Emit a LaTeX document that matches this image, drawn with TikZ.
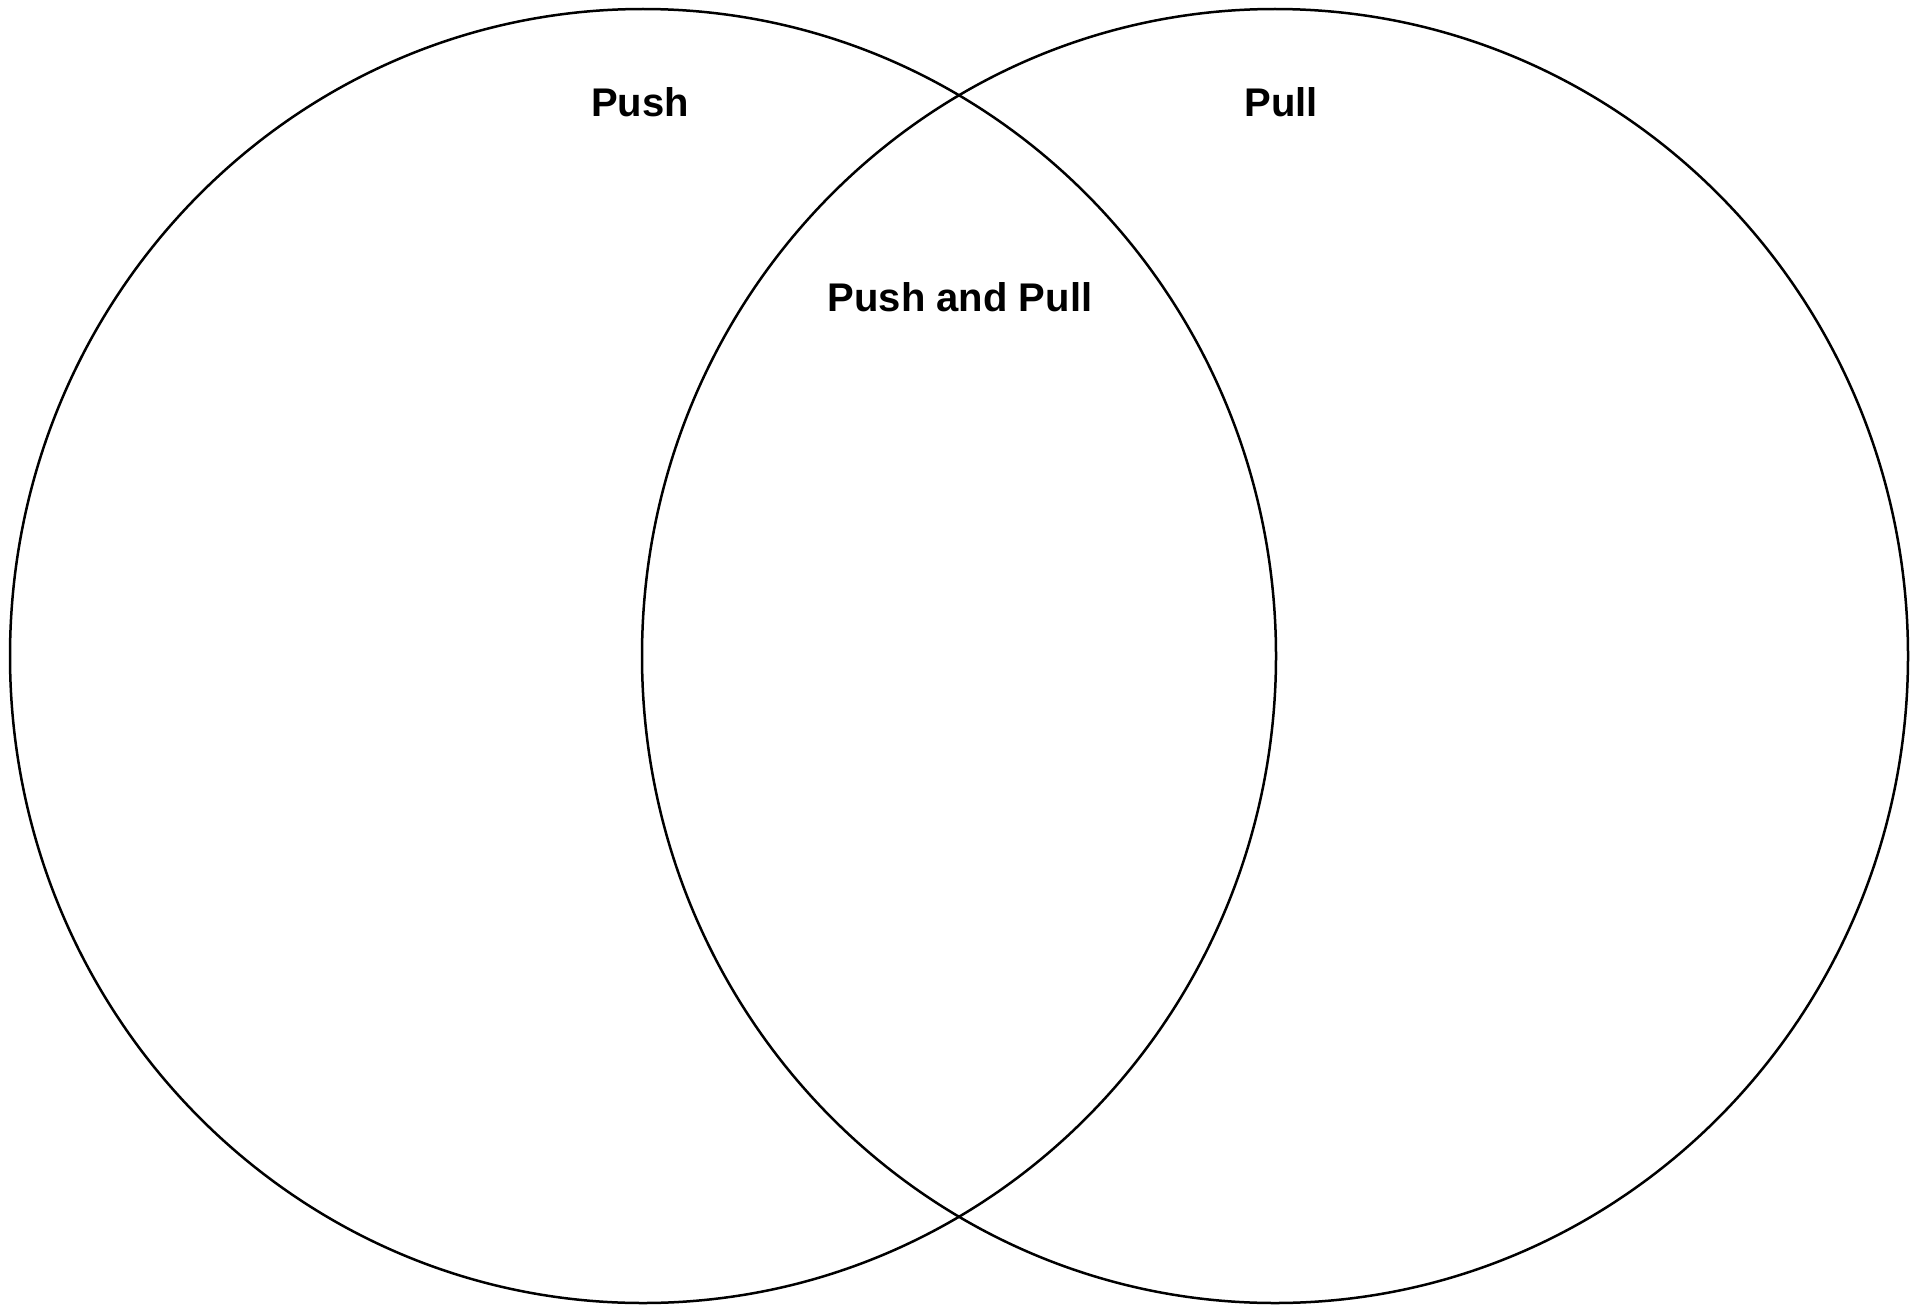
\documentclass[tikz,border=0pt]{standalone}
\usepackage{fontspec}
\setmainfont{Liberation Sans}
\begin{document}
\begin{tikzpicture}[x=1pt,y=-1pt,
  setring/.style={draw=black,line width=2.5pt},
  setlabel/.style={font=\fontsize{40}{46}\selectfont\bfseries,anchor=base,inner sep=0pt}]
\useasboundingbox (0,0) rectangle (1925,1306);
\draw[setring] (643,656) ellipse [x radius=633, y radius=647];
\draw[setring] (1275,656) ellipse [x radius=633, y radius=647];
\node[setlabel] (push) at (640,116) {Push};
\node[setlabel] (pull) at (1281,116) {Pull};
\node[setlabel] (both) at (960,311) {Push and Pull};
\end{tikzpicture}
\end{document}
